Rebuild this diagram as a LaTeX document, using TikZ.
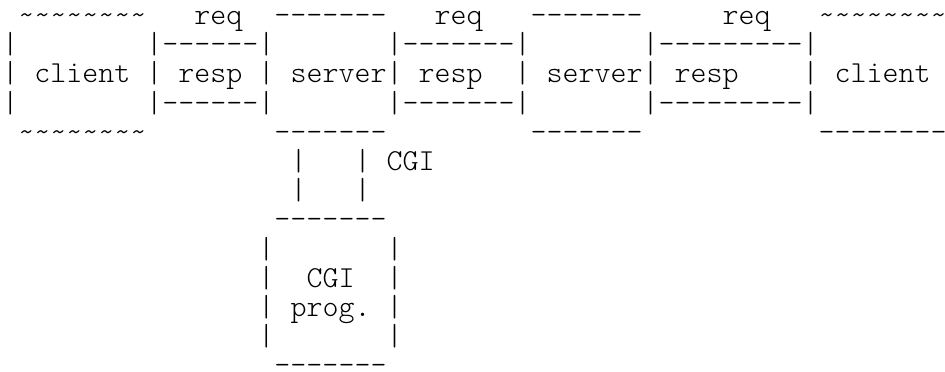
\documentclass[tikz,border=0pt]{standalone}
\newcommand{\tildeline}{\string~\string~\string~\string~\string~\string~\string~\string~}
% size the typewriter font so that one character is 12pt wide
\newlength{\chw}
\settowidth{\chw}{\ttfamily\fontseries{l}\fontsize{20}{24}\selectfont M}
\pgfmathsetmacro{\chsize}{20*12/\chw}

\begin{document}
\begin{tikzpicture}[
        % one column = one character, one row = one text line
        x=12pt, y=-21.9pt,
        % monospaced text cell
        ch/.style={font=\ttfamily\fontseries{l}\fontsize{\chsize}{\chsize}\selectfont, anchor=base west, inner sep=0pt, outer sep=0pt}
    ]

    % Fix the margins
    \useasboundingbox (-0.156,-0.842) rectangle (58.906,11.897);

    % Row 0 - tops and request labels
    \node[ch] (clientTopL) at (1,0) {\tildeline};
    \node[ch] (reqA) at (12,0) {req};
    \node[ch] (serverTopA) at (17,0) {-------};
    \node[ch] (reqB) at (27,0) {req};
    \node[ch] (serverTopB) at (33,0) {-------};
    \node[ch] (reqC) at (45,0) {req};
    \node[ch] (clientTopR) at (51,0) {\tildeline};

    % Row 1 - upper edges of the pipes
    \node[ch] (barL1) at (0,1) {|};
    \node[ch] (respTopA) at (9,1) {|------|};
    \node[ch] (respTopB) at (24,1) {|-------|};
    \node[ch] (respTopC) at (40,1) {|---------|};

    % Row 2 - the names
    \node[ch] (barL2) at (0,2) {|};
    \node[ch] (clientL) at (2,2) {client};
    \node[ch] (barA2) at (9,2) {|};
    \node[ch] (respA) at (11,2) {resp};
    \node[ch] (barB2) at (16,2) {|};
    \node[ch] (serverA) at (18,2) {server};
    \node[ch] (barC2) at (24,2) {|};
    \node[ch] (respB) at (26,2) {resp};
    \node[ch] (barD2) at (32,2) {|};
    \node[ch] (serverB) at (34,2) {server};
    \node[ch] (barE2) at (40,2) {|};
    \node[ch] (respC) at (42,2) {resp};
    \node[ch] (barF2) at (50,2) {|};
    \node[ch] (clientR) at (52,2) {client};

    % Row 3 - lower edges of the pipes
    \node[ch] (barL3) at (0,3) {|};
    \node[ch] (respBotA) at (9,3) {|------|};
    \node[ch] (respBotB) at (24,3) {|-------|};
    \node[ch] (respBotC) at (40,3) {|---------|};

    % Row 4 - bottoms
    \node[ch] (clientBotL) at (1,4) {\tildeline};
    \node[ch] (serverBotA) at (17,4) {-------};
    \node[ch] (serverBotB) at (33,4) {-------};
    \node[ch] (clientBotR) at (51,4) {--------};

    % CGI link
    \node[ch] (cgiL1) at (18,5) {|};
    \node[ch] (cgiR1) at (22,5) {|};
    \node[ch] (cgiLabel) at (24,5) {CGI};
    \node[ch] (cgiL2) at (18,6) {|};
    \node[ch] (cgiR2) at (22,6) {|};

    % CGI program box
    \node[ch] (progTop) at (17,7) {-------};
    \node[ch] (progL8) at (16,8) {|};
    \node[ch] (progR8) at (24,8) {|};
    \node[ch] (progL9) at (16,9) {|};
    \node[ch] (progCgi) at (19,9) {CGI};
    \node[ch] (progR9) at (24,9) {|};
    \node[ch] (progL10) at (16,10) {|};
    \node[ch] (progName) at (18,10) {prog.};
    \node[ch] (progR10) at (24,10) {|};
    \node[ch] (progL11) at (16,11) {|};
    \node[ch] (progR11) at (24,11) {|};
    \node[ch] (progBot) at (17,12) {-------};

\end{tikzpicture}
\end{document}
